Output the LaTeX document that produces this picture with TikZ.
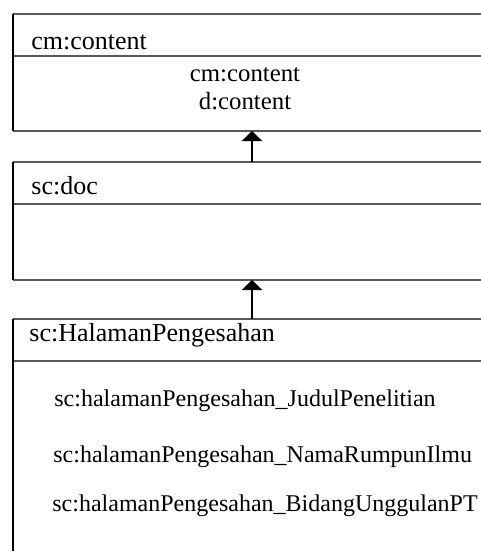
\documentclass[tikz,border=0pt]{standalone}
\usepackage{fontspec}
\setmainfont{Liberation Serif}
\usetikzlibrary{arrows.meta}
\begin{document}
\begin{tikzpicture}[x=0.5pt,y=-0.5pt,
  hline/.style={line width=0.9pt, draw=black!65},
  vline/.style={line width=1.1pt, draw=black},
  titletext/.style={anchor=base west, inner sep=0pt, font=\fontsize{13}{15}\selectfont},
  midtext/.style={anchor=base, inner sep=0pt, font=\fontsize{12.4}{14}\selectfont},
  itemtext/.style={anchor=base west, inner sep=0pt, font=\fontsize{12}{14}\selectfont},
  inherit/.style={line width=1.3pt, -{Triangle[width=10pt,length=5pt]}}]
\useasboundingbox (0,0) rectangle (481,551);
% box 1
\coordinate (b1tl) at (13,14);
\coordinate (b1tr) at (481,14);
\coordinate (b1ml) at (13,56);
\coordinate (b1mr) at (481,56);
\coordinate (b1bl) at (13,131);
\coordinate (b1br) at (481,131);
\coordinate (b1arr) at (252,131);
\draw[hline] (b1tl) -- (b1tr) (b1ml) -- (b1mr) (b1bl) -- (b1br);
\draw[vline] (b1tl) -- (b1bl);
\node[titletext] (t1) at (31,50) {cm:content};
\node[midtext] (m1) at (245,82) {cm:content};
\node[midtext] (m2) at (245,110) {d:content};
% box 2
\coordinate (b2tl) at (13,162);
\coordinate (b2tr) at (481,162);
\coordinate (b2ml) at (13,204);
\coordinate (b2mr) at (481,204);
\coordinate (b2bl) at (13,280);
\coordinate (b2br) at (481,280);
\coordinate (b2top) at (252,162);
\coordinate (b2arr) at (252,280);
\draw[hline] (b2tl) -- (b2tr) (b2ml) -- (b2mr) (b2bl) -- (b2br);
\draw[vline] (b2tl) -- (b2bl);
\node[titletext] (t2) at (31,194) {sc:doc};
% box 3
\coordinate (b3tl) at (13,319);
\coordinate (b3tr) at (481,319);
\coordinate (b3ml) at (13,361);
\coordinate (b3mr) at (481,361);
\coordinate (b3bl) at (13,551);
\coordinate (b3top) at (252,319);
\draw[hline] (b3tl) -- (b3tr) (b3ml) -- (b3mr);
\draw[vline] (b3tl) -- (b3bl);
\node[titletext] (t3) at (29,341) {sc:HalamanPengesahan};
\node[itemtext] (i1) at (54,406) {sc:halamanPengesahan\_JudulPenelitian};
\node[itemtext] (i2) at (53,462) {sc:halamanPengesahan\_NamaRumpunIlmu};
\node[itemtext] (i3) at (52,511) {sc:halamanPengesahan\_BidangUnggulanPT};
% arrows
\draw[inherit] (b2top) -- (b1arr);
\draw[inherit] (b3top) -- (b2arr);
\end{tikzpicture}
\end{document}
